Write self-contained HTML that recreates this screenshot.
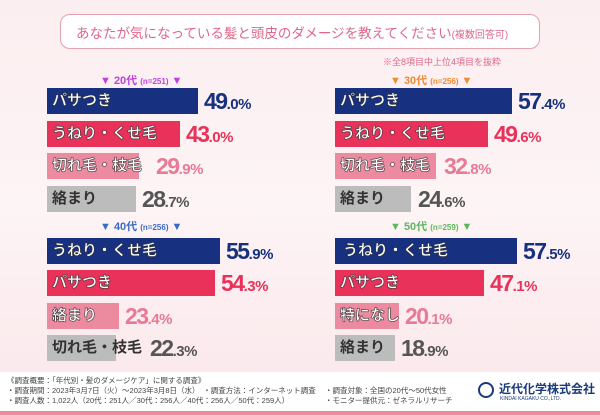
<!DOCTYPE html><html><head><meta charset="utf-8"><style>
body{margin:0;width:600px;height:415px;overflow:hidden;background:linear-gradient(180deg,#fbeef0,#fdf4f5 50%,#fae6ea);font-family:"Liberation Sans","Noto Sans CJK JP",sans-serif;position:relative}
.a{position:absolute}
.bar{position:absolute;height:26px}
.lb{position:absolute;font-weight:bold;font-size:15px;line-height:26px;white-space:nowrap}
.w{color:#fff;-webkit-text-stroke:0.5px #333;text-shadow:0 0 1px #333}
.d{color:#333}
.pc{position:absolute;font-weight:bold;font-size:23px;line-height:26px;letter-spacing:-1.5px;white-space:nowrap}
.pc small{font-size:15px;letter-spacing:-0.5px}
.hd{position:absolute;font-size:11px;font-weight:bold;white-space:nowrap}
.hd small{font-size:8px}
.ft{position:absolute;font-size:7.5px;color:#444;white-space:nowrap}
</style></head><body>
<div class="a" style="left:60px;top:14px;width:478px;height:33px;border:1px solid #e6a0ae;border-radius:10px;background:#fff"></div>
<div class="a" style="left:76px;top:22px;font-size:13.5px;color:#e0678a;white-space:nowrap">あなたが気になっている髪と頭皮のダメージを教えてください<span style="font-size:10px">(複数回答可)</span></div>
<div class="a" style="left:383px;top:55px;font-size:9px;color:#e0678a">※全8項目中上位4項目を抜粋</div>

<div class="hd" style="left:100px;top:72px;color:#c040e0">▼ 20代 <small>(n=251)</small> ▼</div>
<div class="hd" style="left:390px;top:72px;color:#f08a30">▼ 30代 <small>(n=256)</small> ▼</div>
<div class="hd" style="left:100px;top:218px;color:#3a6ac8">▼ 40代 <small>(n=256)</small> ▼</div>
<div class="hd" style="left:390px;top:218px;color:#5cb85c">▼ 50代 <small>(n=259)</small> ▼</div>

<!-- 20s -->
<div class="bar" style="left:47px;top:88px;width:151px;background:#17307f"></div><div class="lb w" style="left:52px;top:88px">パサつき</div><div class="pc" style="left:204px;top:88px;color:#17307f">49<small>.0%</small></div>
<div class="bar" style="left:47px;top:121px;width:133px;background:#e8325a"></div><div class="lb w" style="left:52px;top:121px">うねり・くせ毛</div><div class="pc" style="left:186px;top:121px;color:#e8325a">43<small>.0%</small></div>
<div class="bar" style="left:47px;top:153px;width:92px;background:#ec8aa0"></div><div class="lb w" style="left:52px;top:153px">切れ毛・枝毛</div><div class="pc" style="left:156px;top:153px;color:#e77a95">29<small>.9%</small></div>
<div class="bar" style="left:47px;top:186px;width:89px;background:#bcbcbc"></div><div class="lb d" style="left:52px;top:186px">絡まり</div><div class="pc" style="left:142px;top:186px;color:#555">28<small>.7%</small></div>
<!-- 30s -->
<div class="bar" style="left:335px;top:88px;width:177px;background:#17307f"></div><div class="lb w" style="left:340px;top:88px">パサつき</div><div class="pc" style="left:518px;top:88px;color:#17307f">57<small>.4%</small></div>
<div class="bar" style="left:335px;top:121px;width:153px;background:#e8325a"></div><div class="lb w" style="left:340px;top:121px">うねり・くせ毛</div><div class="pc" style="left:494px;top:121px;color:#e8325a">49<small>.6%</small></div>
<div class="bar" style="left:335px;top:153px;width:101px;background:#ec8aa0"></div><div class="lb w" style="left:340px;top:153px">切れ毛・枝毛</div><div class="pc" style="left:444px;top:153px;color:#e77a95">32<small>.8%</small></div>
<div class="bar" style="left:335px;top:186px;width:76px;background:#bcbcbc"></div><div class="lb d" style="left:340px;top:186px">絡まり</div><div class="pc" style="left:418px;top:186px;color:#555">24<small>.6%</small></div>
<!-- 40s -->
<div class="bar" style="left:47px;top:238px;width:173px;background:#17307f"></div><div class="lb w" style="left:52px;top:238px">うねり・くせ毛</div><div class="pc" style="left:226px;top:238px;color:#17307f">55<small>.9%</small></div>
<div class="bar" style="left:47px;top:270px;width:168px;background:#e8325a"></div><div class="lb w" style="left:52px;top:270px">パサつき</div><div class="pc" style="left:221px;top:270px;color:#e8325a">54<small>.3%</small></div>
<div class="bar" style="left:47px;top:303px;width:72px;background:#ec8aa0"></div><div class="lb w" style="left:52px;top:303px">絡まり</div><div class="pc" style="left:125px;top:303px;color:#e77a95">23<small>.4%</small></div>
<div class="bar" style="left:47px;top:335px;width:69px;background:#bcbcbc"></div><div class="lb d" style="left:52px;top:335px">切れ毛・枝毛</div><div class="pc" style="left:150px;top:335px;color:#555">22<small>.3%</small></div>
<!-- 50s -->
<div class="bar" style="left:335px;top:238px;width:182px;background:#17307f"></div><div class="lb w" style="left:343px;top:238px">うねり・くせ毛</div><div class="pc" style="left:523px;top:238px;color:#17307f">57<small>.5%</small></div>
<div class="bar" style="left:335px;top:270px;width:149px;background:#e8325a"></div><div class="lb w" style="left:340px;top:270px">パサつき</div><div class="pc" style="left:490px;top:270px;color:#e8325a">47<small>.1%</small></div>
<div class="bar" style="left:335px;top:303px;width:64px;background:#ec8aa0"></div><div class="lb w" style="left:340px;top:303px">特になし</div><div class="pc" style="left:405px;top:303px;color:#e77a95">20<small>.1%</small></div>
<div class="bar" style="left:335px;top:335px;width:60px;background:#bcbcbc"></div><div class="lb d" style="left:340px;top:335px">絡まり</div><div class="pc" style="left:401px;top:335px;color:#555">18<small>.9%</small></div>

<div class="a" style="left:0;top:372px;width:600px;height:43px;background:#fff"></div>
<div class="ft" style="left:7px;top:375px">《調査概要：「年代別・髪のダメージケア」に関する調査》</div>
<div class="ft" style="left:7px;top:385px">・調査期間：2023年3月7日（火）～2023年3月8日（水）　・調査方法：インターネット調査</div>
<div class="ft" style="left:7px;top:395px">・調査人数：1,022人（20代：251人／30代：256人／40代：256人／50代：259人）</div>
<div class="ft" style="left:325px;top:385px">・調査対象：全国の20代～50代女性</div>
<div class="ft" style="left:325px;top:395px">・モニター提供元：ゼネラルリサーチ</div>
<div class="a" style="left:478px;top:382px;width:12px;height:12px;border:2px solid #1a3a7a;border-radius:50%"></div>
<div class="a" style="left:499px;top:380px;font-size:12px;font-weight:bold;color:#1a3a7a;white-space:nowrap">近代化学株式会社</div>
<div class="a" style="left:500px;top:396px;font-size:5px;color:#1a3a7a">KINDAI KAGAKU CO.,LTD.</div>
<div class="a" style="left:0;top:411px;width:600px;height:4px;background:#ec8aa0"></div>
</body></html>
